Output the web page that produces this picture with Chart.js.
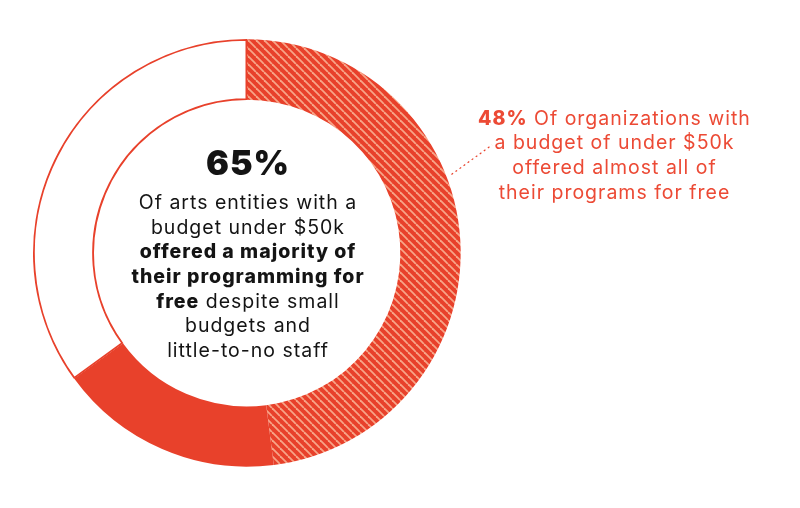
<!DOCTYPE html>
<html>
<head>
<meta charset="utf-8">
<script src="https://cdn.jsdelivr.net/npm/chart.js@4.4.1/dist/chart.umd.min.js"></script>
<style>
  html, body { margin: 0; padding: 0; background: #fff; }
  #wrap { position: relative; width: 800px; height: 508px; overflow: hidden; }
  #chart { position: absolute; left: 0; top: 0; }
  .txt { position: absolute; font-family: "Inter", "Open Sans", sans-serif; text-align: center; white-space: nowrap; }
  #center { left: 88px; top: 143px; width: 320px; color: #141414; font-size: 19.5px; line-height: 24.7px; letter-spacing: 1px; }
  #center .big { font-size: 34px; font-weight: 900; line-height: 40px; margin-bottom: 6.8px; letter-spacing: 1px; }
  #center b { font-weight: 800; }
  #note { left: 462px; top: 105.5px; width: 305px; color: #ec4a35; font-size: 19.5px; line-height: 24.7px; letter-spacing: 1px; }
  #note b { font-weight: 800; }
</style>
</head>
<body>
<div id="wrap">
  <canvas id="chart" width="800" height="508"></canvas>
  <div class="txt" id="center">
    <div class="big">65%</div>
    Of arts entities with a<br>budget under $50k<br><b>offered a majority of<br>their programming for<br>free</b> despite small<br>budgets and<br>little-to-no staff
  </div>
  <div class="txt" id="note">
    <b>48%</b> Of organizations with<br>a budget of under $50k<br>offered almost all of<br>their programs for free
  </div>
</div>
<script>
// shares of arts entities under $50k budget
const labels = ['Almost all programs free', 'Majority free (rest)', 'Other'];
const shares = [48, 17, 35];

const RED = '#e8412b';
const STRIPE = '#f7a588';

// diagonal hatch for the "almost all free" slice
function makeHatch() {
    const s = 8;
    const c = document.createElement('canvas');
    c.width = s;
    c.height = s;
    const g = c.getContext('2d');
    g.fillStyle = RED;
    g.fillRect(0, 0, s, s);
    g.strokeStyle = STRIPE;
    g.lineWidth = 1.8;
    [-s, 0, s].forEach(a => {
        g.beginPath();
        g.moveTo(a, 0);
        g.lineTo(a + s, s);
        g.stroke();
    });
    return g.createPattern(c, 'repeat');
}

const hatch = makeHatch();

// dotted leader from the ring to the side note
const leaderLine = {
    id: 'leaderLine',
    afterDraw(chart) {
        const arc = chart.getDatasetMeta(0).data[0];
        if (!arc) return;
        const ctx = chart.ctx;
        const ang = (69 - 90) * Math.PI / 180;
        const r = arc.outerRadius + 5;
        ctx.save();
        ctx.strokeStyle = RED;
        ctx.lineWidth = 1.2;
        ctx.setLineDash([2, 3]);
        ctx.beginPath();
        ctx.moveTo(arc.x + r * Math.cos(ang), arc.y + r * Math.sin(ang));
        ctx.lineTo(492, 145);
        ctx.stroke();
        ctx.restore();
    }
};

new Chart(document.getElementById('chart'), {
    type: 'doughnut',
    data: {
        labels: labels,
        datasets: [{
            data: shares,
            backgroundColor: [hatch, RED, '#ffffff'],
            borderColor: [RED, RED, RED],
            borderWidth: [0, 0, 1.5],
            borderAlign: 'inner'
        }]
    },
    options: {
        responsive: false,
        animation: false,
        cutout: '71.5%',
        layout: { padding: { left: 33, right: 339, top: 39, bottom: 41 } },
        plugins: {
            legend: { display: false },
            tooltip: { enabled: false }
        }
    },
    plugins: [leaderLine]
});
</script>
</body>
</html>
